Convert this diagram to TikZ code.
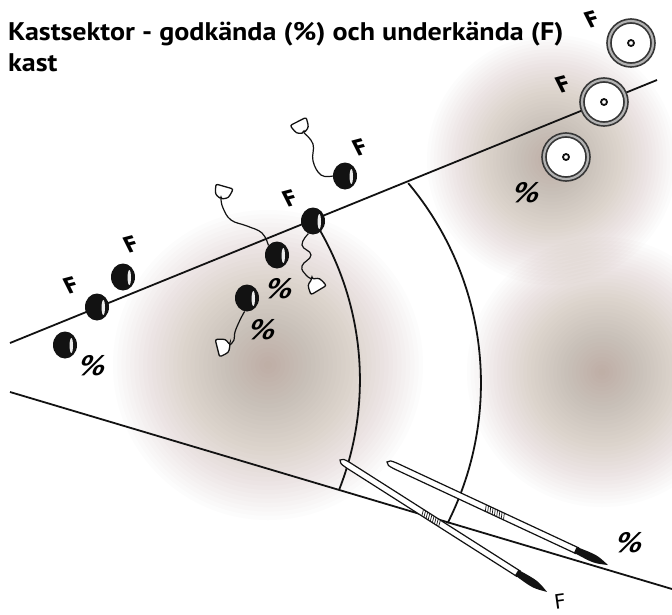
\documentclass[tikz,border=0pt]{standalone}
\usepackage{fontspec}
\newfontfamily\titlefont{PT Sans}
\newfontfamily\markfont{DejaVu Sans}
\usetikzlibrary{calc,shapes.geometric}

\definecolor{ink}{RGB}{18,18,18}
\definecolor{spot}{RGB}{150,126,104}

\tikzset{
  sector/.style={draw=ink, line width=1.8pt},
  tether/.style={draw=ink, line width=1.2pt},
  ballnode/.style={ellipse, fill=ink, minimum width=24pt, minimum height=27pt, inner sep=0pt,
    path picture={\fill[white!92!black] ($(path picture bounding box.center)+(6.3,0.5)$) ellipse (1.7 and 7.5);}},
  ringnode/.style={circle, draw=ink!85, line width=1.7pt, double=gray!60, double distance=2.2pt,
    fill=white, minimum size=44pt, inner sep=0pt,
    path picture={\draw[ink, line width=1.8pt] (path picture bounding box.center) circle (3);}},
  fmark/.style={font=\markfont\bfseries\fontsize{21}{21}\selectfont, inner sep=0pt, xslant=-0.25, rotate=14},
  pmark/.style={font=\markfont\bfseries\fontsize{27}{27}\selectfont, inner sep=0pt, xslant=0.4},
  titletext/.style={font=\titlefont\bfseries\fontsize{25.5}{25.5}\selectfont, inner sep=0pt, anchor=base west, xscale=1.1},
  pics/cup/.style={code={
    \draw[ink, line width=1.3pt, fill=white, rounded corners=2pt]
      (0,0) .. controls (3,-7) .. (13,-9) -- (13,9) .. controls (3,7) .. (0,0) -- cycle;}},
  pics/javelin/.style args={#1/#2}{code={
    \draw[ink, line width=1.2pt, fill=white]
      (0,0) .. controls (2,-2.8) .. (10,-3.2) -- ({#1-34},-3.2) -- ({#1-34},3.2) -- (10,3.2) .. controls (2,2.8) .. (0,0) -- cycle;
    \fill[ink] ({#1-36},-3.2) .. controls ({#1-14},-4.6) .. (#1,0) .. controls ({#1-14},4.6) .. ({#1-36},3.2) -- cycle;
    \foreach \t in {0,2.5,...,20} \draw[ink, line width=0.7pt] ({#2+\t},-3.2) -- ({#2+\t+2},3.2);}}
}

\begin{document}
\begin{tikzpicture}[x=1pt,y=-1pt]
\useasboundingbox (0,0) rectangle (672,614);
\fill[white] (0,0) rectangle (672,614);
\clip (0,0) rectangle (672,614);

% soft brown spots on the ground
\foreach \cx/\cy/\r in {268/365/155, 602/372/135, 552/160/125}{
  \foreach \k in {1,...,36}
    \fill[spot, fill opacity=0.02] (\cx,\cy) circle ({\r*\k/36});
}

% title
\node[titletext] (title1) at (8,40) {Kastsektor - godkända (\%) och underkända (F)};
\node[titletext] (title2) at (8,71) {kast};

% sector lines
\coordinate (up0) at (10,343);
\coordinate (up1) at (657,80);
\coordinate (lo0) at (10,392);
\coordinate (lo1) at (672,589);
\draw[sector] (up0) -- (up1);
\draw[sector] (lo0) -- (lo1);

% distance arcs
\coordinate (ia) at (314.9,221.9);
\coordinate (oa) at (408.2,183.1);
\draw[sector] (ia) arc[start angle=-31.8, end angle=21.4, radius=300];
\draw[sector] (oa) arc[start angle=-40, end angle=26.8, radius=311];

% javelins
\pic[rotate=-32.5] (jav1) at (340,460) {javelin=245.5/97};
\pic[rotate=-25] (jav2) at (387,462) {javelin=243.8/108};

% hammer grips
\coordinate (c5) at (221,199);
\coordinate (c7) at (304,133);
\coordinate (c4) at (312,279);
\coordinate (c6) at (230,345);

% balls
\node[ballnode] (b1) at (97,307) {};
\node[ballnode] (b2) at (123,277) {};
\node[ballnode] (b3) at (65,345) {};
\node[ballnode] (b4) at (313,221) {};
\node[ballnode] (b5) at (277,255) {};
\node[ballnode] (b6) at (247,298) {};
\node[ballnode] (b7) at (345,176) {};

\draw[tether] plot[smooth, tension=0.7] coordinates {(b7.west) (321,175) (313,161) (313,144) (c7)};
\draw[tether] plot[smooth, tension=0.7] coordinates {(b5.north west) (262,233) (247,226) (231,220) (223,208) (c5)};
\draw[tether] plot[smooth, tension=0.8] coordinates {(b4.-110) (302,245) (311,255) (302,266) (306,275) (c4)};
\draw[tether] plot[smooth, tension=0.7] coordinates {(b6.-100) (240,320) (235,332) (234,340) (c6)};

\pic[rotate=74] at (c5) {cup};
\pic[rotate=117] at (c7) {cup};
\pic[rotate=-59] at (c4) {cup};
\pic[rotate=194] at (c6) {cup};

% discus
\node[ringnode] (r1) at (631,43) {};
\node[ringnode] (r2) at (604,102) {};
\node[ringnode] (r3) at (566,157) {};

% marks: F = foul, % = valid
\node[fmark] (f1) at (71,285) {F};
\node[fmark] (f2) at (131,244) {F};
\node[fmark] (f3) at (290,198) {F};
\node[fmark] (f4) at (360,147) {F};
\node[fmark] (f5) at (563,84) {F};
\node[fmark] (f6) at (592,19) {F};
\node[font=\markfont\fontsize{20}{20}\selectfont, inner sep=0pt, rotate=8] (f7) at (560,601) {F};

\node[pmark] (p1) at (93,366) {\%};
\node[pmark] (p2) at (280,289) {\%};
\node[pmark] (p3) at (263,330) {\%};
\node[pmark] (p4) at (527,193) {\%};
\node[pmark] (p5) at (630,543) {\%};
\end{tikzpicture}
\end{document}
